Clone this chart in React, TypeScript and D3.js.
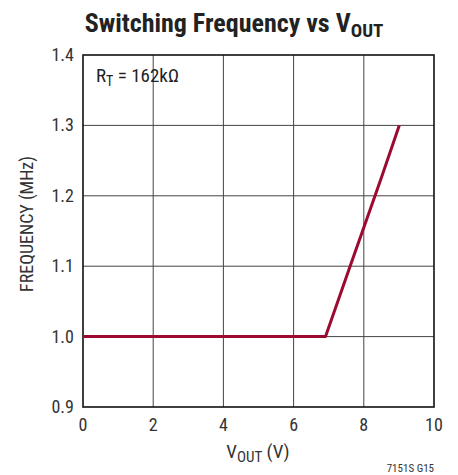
import React from "react";
import * as d3 from "d3";

const vout = [0, 6.91, 7.61, 8.32, 8.51, 9.01];
const freq = [1.0, 1.0, 1.1, 1.2, 1.227, 1.3];
const xTicks = [0, 2, 4, 6, 8, 10];
const yTicks = [0.9, 1.0, 1.1, 1.2, 1.3, 1.4];

const W = 458, H = 475;
const M = { left: 83, right: 434, top: 55, bottom: 407 };
const FONT = "'Liberation Sans Narrow', 'Arial Narrow', 'Roboto Condensed', sans-serif";

export default function App() {
  const x = d3.scaleLinear().domain([0, 10]).range([M.left, M.right]);
  const y = d3.scaleLinear().domain([0.9, 1.4]).range([M.bottom, M.top]);
  const pts = vout.map((v, i) => [v, freq[i]] as [number, number]);
  const line = d3.line<[number, number]>().x(d => x(d[0])).y(d => y(d[1]));
  return (
    <svg width={W} height={H} style={{ position: "absolute", left: 0, top: 0 }}>
      <rect width={W} height={H} fill="#fff" />
      <text x={234} y={32} textAnchor="middle" fontFamily={FONT} fontWeight="bold" fontSize={26} fill="#222">
        Switching Frequency vs V<tspan fontSize={19} dy={5}>OUT</tspan>
      </text>
      {xTicks.slice(1, -1).map(t => (
        <line key={"gx" + t} x1={x(t)} x2={x(t)} y1={M.top} y2={M.bottom} stroke="#444" strokeWidth={1} />
      ))}
      {yTicks.slice(1, -1).map(t => (
        <line key={"gy" + t} x1={M.left} x2={M.right} y1={y(t)} y2={y(t)} stroke="#444" strokeWidth={1} />
      ))}
      <rect x={M.left} y={M.top} width={M.right - M.left} height={M.bottom - M.top} fill="none" stroke="#111" strokeWidth={1.6} />
      <path d={line(pts) || ""} fill="none" stroke="#9c0a2f" strokeWidth={3} strokeLinejoin="round" />
      {xTicks.map(t => (
        <text key={"tx" + t} x={x(t)} y={431} textAnchor="middle" fontFamily={FONT} fontSize={18} fill="#333">{t}</text>
      ))}
      {yTicks.map(t => (
        <text key={"ty" + t} x={74} y={y(t) + 6} textAnchor="end" fontFamily={FONT} fontSize={18} fill="#333">{t.toFixed(1)}</text>
      ))}
      <text transform={`translate(33,224) rotate(-90)`} textAnchor="middle" fontFamily={FONT} fontSize={18} fill="#333">FREQUENCY (MHz)</text>
      <text x={258} y={458} textAnchor="middle" fontFamily={FONT} fontSize={19} fill="#333">
        V<tspan fontSize={15} dy={4}>OUT</tspan><tspan dy={-4}> (V)</tspan>
      </text>
      <text x={96} y={82} fontFamily={FONT} fontSize={19} fill="#222">
        R<tspan fontSize={14} dy={4}>T</tspan><tspan dy={-4}> = 162kΩ</tspan>
      </text>
      <text x={434} y={472} textAnchor="end" fontFamily={FONT} fontSize={11} fill="#333">7151S G15</text>
    </svg>
  );
}
